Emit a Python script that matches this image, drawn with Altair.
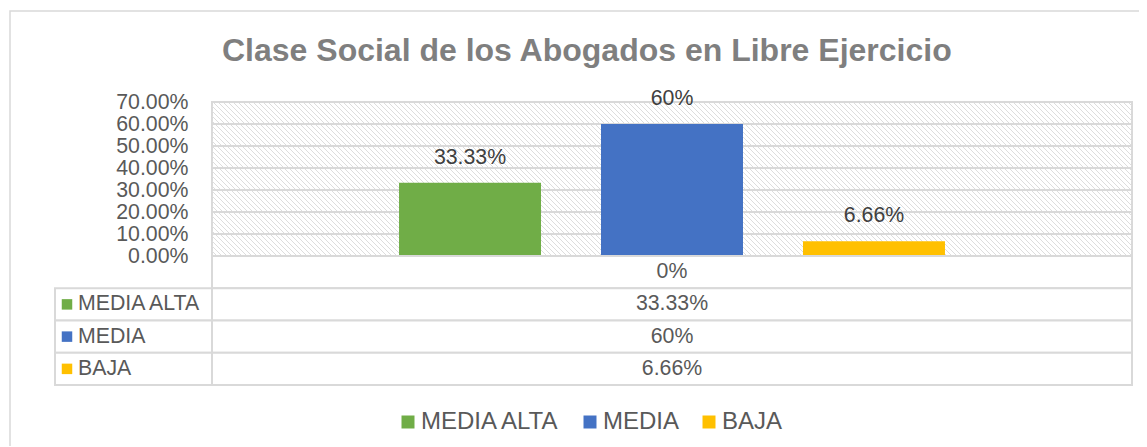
import altair as alt
import pandas as pd

# ---- data ----
title_text = "Clase Social de los Abogados en Libre Ejercicio"
category = "0%"
series = ["MEDIA ALTA", "MEDIA", "BAJA"]
values = [0.3333, 0.60, 0.0666]
value_labels = ["33.33%", "60%", "6.66%"]
colors = ["#70AD47", "#4472C4", "#FFC000"]
y_ticks = [0.0, 0.1, 0.2, 0.3, 0.4, 0.5, 0.6, 0.7]

# ---- layout / style ----
F = "Liberation Sans"
W, H = 920, 154
GRID = "#d9d9d9"
TXT = "#595959"

bars_df = pd.DataFrame({"serie": series, "valor": values, "etiqueta": value_labels})
row_keys = ["cat"] + series
table_df = pd.DataFrame({
    "fila": row_keys,
    "serie": [""] + series,
    "texto": [category] + value_labels,
})

y_val = alt.Scale(domain=[0, 0.7], nice=False, zero=True)
table_scale = alt.Scale(domain=row_keys, range=[H, H + 129], paddingInner=0, paddingOuter=0)
x_enc = alt.X("serie:N", sort=series, axis=None,
              scale=alt.Scale(domain=series, paddingInner=0.297, paddingOuter=0.926))
color_scale = alt.Scale(domain=series, range=colors)
legend = alt.Legend(orient="none", legendX=184, legendY=308, direction="horizontal",
                    symbolType="square", symbolSize=169, symbolStrokeWidth=0,
                    labelFontSize=24, labelColor=TXT, labelFont=F, columnPadding=17,
                    labelOffset=1, title=None, labelLimit=0, symbolOpacity=1)
color_enc = alt.Color("serie:N", scale=color_scale, legend=legend)

one = pd.DataFrame({"titulo": [title_text]})

border = alt.Chart(one).mark_rect(filled=False, stroke=GRID, strokeWidth=1.5).encode(
    x=alt.value(-202), x2=alt.value(1600), y=alt.value(-91), y2=alt.value(1000)
)

title = alt.Chart(one).mark_text(align="left", baseline="alphabetic", fontSize=32, font=F,
                                 fontWeight="bold", color="#7f7f7f").encode(
    x=alt.value(10), y=alt.value(-41), text="titulo:N"
)

hatch = alt.Chart(alt.sequence(-H, W + 1, 5, as_="k")).transform_calculate(
    x0="datum.k", x1=f"datum.k + {H}", y0="0", y1=str(H)
).mark_rule(clip=True, color="#dddddd", strokeWidth=1).encode(
    x=alt.X("x0:Q", scale=None), x2="x1:Q",
    y=alt.Y("y0:Q", scale=None), y2="y1:Q",
)

grid = alt.Chart(pd.DataFrame({"t": y_ticks})).mark_rule(color=GRID, strokeWidth=2).encode(
    y=alt.Y("t:Q", scale=y_val, axis=None)
)

bars = alt.Chart(bars_df).mark_bar().encode(
    x=x_enc,
    y=alt.Y("valor:Q", scale=y_val,
            axis=alt.Axis(values=y_ticks, format=".2%", labelFontSize=21.3, labelColor=TXT,
                          labelFont=F, ticks=False, domain=False, grid=False,
                          labelPadding=24, labelOverlap=False, title=None)),
    color=color_enc,
)

labels = alt.Chart(bars_df).mark_text(dy=-19, baseline="alphabetic", fontSize=21.3,
                                      color="#404040", font=F).encode(
    x=x_enc,
    y=alt.Y("valor:Q", scale=y_val, axis=None),
    text="etiqueta:N",
)

y_tab = alt.Y("fila:N", sort=row_keys, scale=table_scale, axis=None)

value_cells = alt.Chart(table_df).mark_rect(fill="white", stroke=GRID, strokeWidth=2).encode(
    x=alt.value(0), x2=alt.value(W), y=y_tab
)
head_cells = alt.Chart(table_df).transform_filter(
    alt.FieldOneOfPredicate(field="fila", oneOf=series)
).mark_rect(fill="white", stroke=GRID, strokeWidth=2).encode(
    x=alt.value(-157), x2=alt.value(0), y=y_tab
)
value_text = alt.Chart(table_df).mark_text(fontSize=21.3, color=TXT, font=F,
                                           baseline="middle").encode(
    x=alt.value(W / 2), y=y_tab, text="texto:N"
)
head_sq = alt.Chart(table_df).transform_filter(
    alt.FieldOneOfPredicate(field="fila", oneOf=series)
).mark_square(size=110, opacity=1).encode(
    x=alt.value(-145), y=y_tab, color=color_enc
)
head_text = alt.Chart(table_df).transform_filter(
    alt.FieldOneOfPredicate(field="fila", oneOf=series)
).mark_text(fontSize=21.3, color=TXT, font=F, align="left", baseline="middle").encode(
    x=alt.value(-134), y=y_tab, text="serie:N"
)

chart = alt.layer(
    border, title, hatch, grid, bars, labels, value_cells, head_cells, value_text,
    head_sq, head_text
).resolve_scale(y="independent").properties(
    width=W, height=H,
    autosize=alt.AutoSizeParams(type="none"),
    padding={"left": 204, "top": 94, "right": 7, "bottom": 190},
).configure_view(stroke=GRID, strokeWidth=2)

chart.save("out.html", embed_options={"renderer": "svg", "actions": False})
